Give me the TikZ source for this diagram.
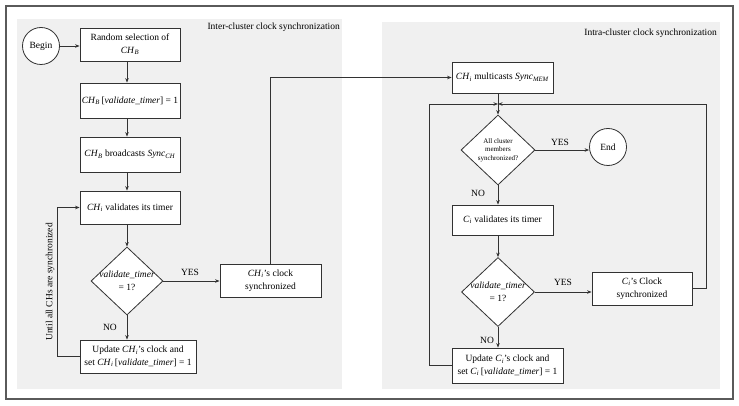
\documentclass[tikz,border=0pt]{standalone}
\usepackage{fontspec}
\setmainfont{Liberation Serif}
\usetikzlibrary{shapes.geometric,arrows.meta}
\newcommand{\csub}[2]{\textit{#1}\textsubscript{\textit{#2}}}
\definecolor{panel}{RGB}{240,240,240}
\definecolor{frame}{RGB}{90,90,90}
\definecolor{ink}{RGB}{50,50,50}
\begin{document}
\begin{tikzpicture}[x=1pt,y=-1pt,
  every node/.style={font=\fontsize{9.5}{12.5}\selectfont, text=black},
  box/.style={draw=ink, fill=white, line width=0.8pt, align=center, inner sep=1pt},
  dia/.style={draw=ink, fill=white, line width=0.8pt, diamond, inner sep=0pt},
  term/.style={draw=ink, fill=white, line width=0.8pt, circle, minimum size=37pt, inner sep=0pt},
  conn/.style={draw=ink, line width=0.8pt},
  arr/.style={conn, -{Stealth[length=4.5pt,width=3.5pt]}},
  lbl/.style={inner sep=1pt},
]
\useasboundingbox (0,0) rectangle (739,406);
% frame and panels
\draw[frame, line width=1.1pt] (6,6) rectangle (733,399);
\fill[panel] (17,19) rectangle (342,389);
\fill[panel] (382,22) rectangle (720,389);
\node[anchor=east, lbl] (t1) at (341,27) {Inter-cluster clock synchronization};
\node[anchor=east, lbl] (t2) at (718,33) {Intra-cluster clock synchronization};

% left column
\node[term] (begin) at (41,46) {Begin};
\node[box, minimum width=100pt, minimum height=33pt] (b1) at (130,44.5) {Random selection of\\\csub{CH}{B}};
\node[box, minimum width=100pt, minimum height=35pt] (b2) at (130,100.5) {\csub{CH}{B}\,[\textit{validate\_timer}] = 1};
\node[box, minimum width=100pt, minimum height=35pt] (b3) at (130,154.5) {\csub{CH}{B} broadcasts \csub{Sync}{CH}};
\node[box, minimum width=100pt, minimum height=33pt] (b4) at (130,207.5) {\csub{CH}{i} validates its timer};
\node[dia, minimum width=72pt, minimum height=68pt] (d1) at (127,281) {};
\node[align=center, inner sep=0pt] (d1t) at (d1) {\textit{validate\_timer}\\= 1?};
\node[box, minimum width=116pt, minimum height=33pt] (b5) at (138,356.5) {Update \csub{CH}{i}'s clock and\\set \csub{CH}{i}\,[\textit{validate\_timer}] = 1};
\node[box, minimum width=101pt, minimum height=33pt] (b6) at (270.5,280.5) {\csub{CH}{i}'s clock\\synchronized};

% right column
\node[box, minimum width=101pt, minimum height=31pt] (b7) at (502.5,77.5) {\csub{CH}{i} multicasts \csub{Sync}{MEM}};
\coordinate (J) at (498,104);
\coordinate (jl) at (429,104);
\coordinate (jr) at (706,104);
\node[dia, minimum width=74pt, minimum height=70pt] (d2) at (498,150) {};
\node[align=center, inner sep=0pt, font=\fontsize{7}{8.5}\selectfont] (d2t) at (d2) {All cluster\\members\\synchronized?};
\node[term] (end) at (608,147) {End};
\node[box, minimum width=101pt, minimum height=30pt] (b8) at (502.5,220) {\csub{C}{i} validates its timer};
\node[dia, minimum width=73pt, minimum height=69pt] (d3) at (498,292) {};
\node[align=center, inner sep=0pt] (d3t) at (d3) {\textit{validate\_timer}\\= 1?};
\node[box, minimum width=100pt, minimum height=33pt] (b9) at (642,288.5) {\csub{C}{i}'s Clock\\synchronized};
\node[box, minimum width=111pt, minimum height=35pt] (b10) at (507.5,365.5) {Update \csub{C}{i}'s clock and\\set \csub{C}{i}\,[\textit{validate\_timer}] = 1};

% left connectors
\draw[arr] (begin.east) -- (begin.east -| b1.west);
\draw[arr] (b1.south -| d1) -- (b2.north -| d1);
\draw[arr] (b2.south -| d1) -- (b3.north -| d1);
\draw[arr] (b3.south -| d1) -- (b4.north -| d1);
\draw[arr] (b4.south -| d1) -- (d1.north);
\draw[arr] (d1.south) -- (b5.north -| d1);
\draw[arr] (d1.east) -- (d1.east -| b6.west);
\draw[arr] (b5.west) -- ++(-22,0) |- (b4.west);
\draw[arr] (b6.north) |- (b7.west);
\node[lbl] (yes1) at (190,272) {YES};
\node[lbl] (no1) at (110,327) {NO};
\node[lbl, rotate=90] (loop) at (50,282) {Until all CHs are synchronized};

% right connectors
\draw[arr] (b7.south -| d2) -- (d2.north);
\draw[arr] (b10.west) -| (jl) -- (J);
\draw[arr] (b9.east) -| (jr) -- (J);
\draw[arr] (d2.east) -- (d2.east -| end.west);
\draw[arr] (d2.south) -- (b8.north -| d2);
\draw[arr] (b8.south -| d3) -- (d3.north);
\draw[arr] (d3.east) -- (d3.east -| b9.west);
\draw[arr] (d3.south) -- (b10.north -| d3);
\node[lbl] (yes2) at (560,142) {YES};
\node[lbl] (no2) at (478,193) {NO};
\node[lbl] (yes3) at (563,282) {YES};
\node[lbl] (no3) at (487,340) {NO};
\end{tikzpicture}
\end{document}
